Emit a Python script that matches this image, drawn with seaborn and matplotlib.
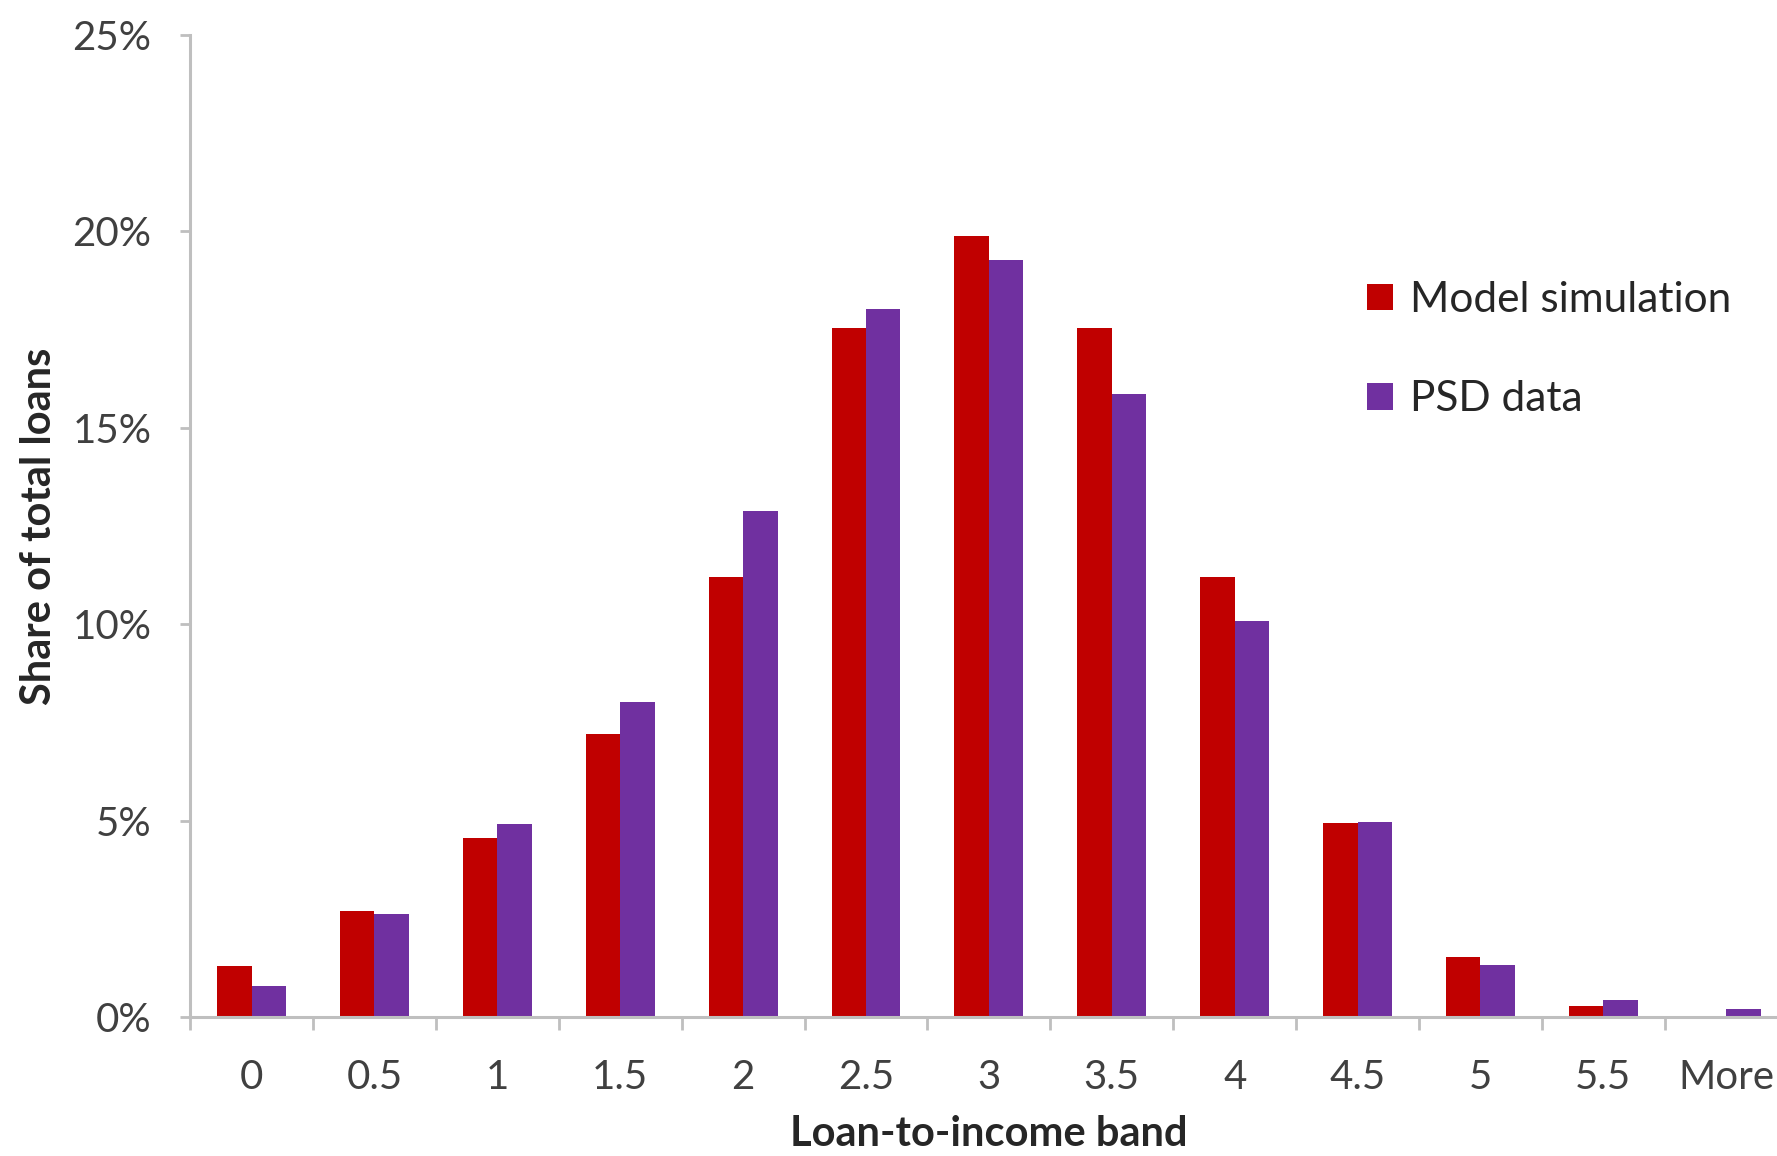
import matplotlib
matplotlib.use("Agg")
import matplotlib.pyplot as plt
from matplotlib.ticker import PercentFormatter, FixedLocator
from matplotlib.patches import Patch
import seaborn as sns
import pandas as pd

# Loan-to-income bands and share of total loans (%) per series
bands = ["0", "0.5", "1", "1.5", "2", "2.5", "3", "3.5", "4", "4.5", "5", "5.5", "More"]
model_simulation = [1.3, 2.7, 4.57, 7.2, 11.2, 17.55, 19.88, 17.55, 11.2, 4.93, 1.52, 0.28, 0.0]
psd_data = [0.78, 2.62, 4.92, 8.02, 12.88, 18.02, 19.28, 15.87, 10.07, 4.97, 1.32, 0.44, 0.2]
series_names = ["Model simulation", "PSD data"]
series_colors = ["#C00000", "#7030A0"]
y_ticks = [0, 5, 10, 15, 20, 25]

df = pd.DataFrame({
    "band": bands * 2,
    "share": model_simulation + psd_data,
    "series": [series_names[0]] * len(bands) + [series_names[1]] * len(bands),
})

sns.set_theme(style="white")
plt.rcParams["font.family"] = ["Lato", "DejaVu Sans"]

fig = plt.figure(figsize=(17.77, 11.56), dpi=100)
ax = fig.add_axes([0.107, 0.1202, 0.899, 0.8495])

sns.barplot(data=df, x="band", y="share", hue="series", order=bands,
            hue_order=series_names, palette=series_colors, saturation=1,
            width=0.56, gap=0, linewidth=0, ax=ax, legend=False)

ax.set_xlim(-0.5, len(bands) - 0.5)
ax.set_ylim(0, 25)
ax.set_yticks(y_ticks)
ax.yaxis.set_major_formatter(PercentFormatter(decimals=0))

spine_color = "#BFBFBF"
text_color = "#404040"
for side in ["top", "right"]:
    ax.spines[side].set_visible(False)
for side in ["left", "bottom"]:
    ax.spines[side].set_color(spine_color)
    ax.spines[side].set_linewidth(2.2)

# category boundaries carry the x tick marks
ax.xaxis.set_minor_locator(FixedLocator([i - 0.5 for i in range(len(bands) + 1)]))
ax.tick_params(axis="x", which="major", length=0, pad=30, labelsize=29, labelcolor=text_color)
ax.tick_params(axis="x", which="minor", length=9, width=2, color=spine_color, bottom=True)
ax.tick_params(axis="y", which="major", length=7, width=2, color=spine_color, left=True,
               pad=21, labelsize=29, labelcolor=text_color)

ax.set_xlabel("Loan-to-income band", fontsize=30, fontweight="bold", color="#262626", labelpad=14)
ax.set_ylabel("Share of total loans", fontsize=30, fontweight="bold", color="#262626", labelpad=10)

handles = [Patch(facecolor=c, edgecolor="none") for c in series_colors]
fig.legend(handles, series_names, loc="upper left", bbox_to_anchor=(0.748, 0.79),
           frameon=False, fontsize=30.5, handlelength=0.6, handleheight=0.6,
           handletextpad=0.4, labelspacing=1.45, labelcolor="#262626")

fig.savefig("out.png", dpi=100, facecolor="white")
